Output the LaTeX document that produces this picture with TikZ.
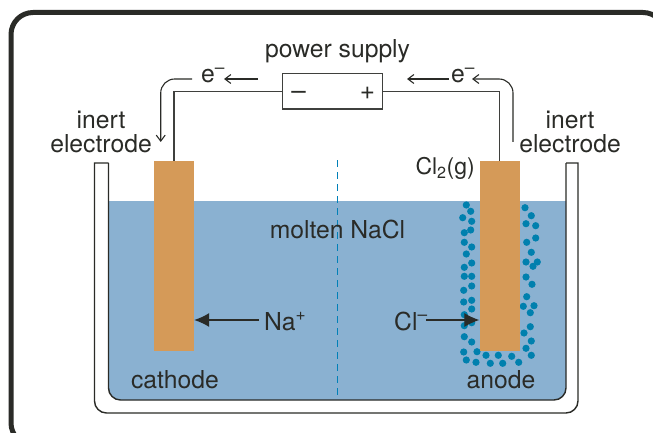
\documentclass[tikz,border=0pt]{standalone}
\usepackage{fontspec}
\setmainfont{TeX Gyre Heros}
\usetikzlibrary{arrows.meta}
\definecolor{inkdark}{HTML}{2A2B27}
\definecolor{meltblue}{HTML}{8AB1D1}
\definecolor{rodtan}{HTML}{D59A58}
\definecolor{gasblue}{HTML}{0080AE}
\definecolor{splitblue}{HTML}{0080B8}
\tikzset{
	lbl/.style={inner sep=0pt,text=inkdark,font=\fontsize{24.7}{24}\selectfont,anchor=base},
	sign/.style={inner sep=0pt,text=inkdark,font=\fontsize{26}{24}\selectfont,anchor=base},
	rod/.style={fill=rodtan,minimum width=40,minimum height=190,inner sep=0pt},
	wire/.style={draw=inkdark!90,line width=1.3},
	eflow/.style={draw=inkdark,line width=1.1,-{Straight Barb[length=6,width=9,line width=1.1]}},
	ionflow/.style={draw=inkdark,line width=1.1,-{Latex[length=15,width=14]}},
}
\begin{document}
\begin{tikzpicture}[x=1pt,y=-1pt]
	\useasboundingbox (0,0) rectangle (653,433);
	\clip (0,0) rectangle (653,433);
	\draw [draw=inkdark,line width=5,rounded corners=22] (11,12.5) rectangle (665,445);
	\fill [meltblue] (108.5,201) [rounded corners=12] -- (108.5,400) -- (566,400) [sharp corners] -- (566,201) -- cycle;
	\draw [draw=inkdark,line width=1.4] (108.5,163) [rounded corners=12] -- (108.5,400) -- (566,400) [sharp corners] -- (566,163);
	\draw [draw=inkdark,line width=1.4] (108.5,163) -- (94.5,163) [rounded corners=12] -- (94.5,413) -- (578,413) [sharp corners] -- (578,163) -- (566,163);
	\foreach \dy in {160,172,...,388}
		\fill [splitblue] (336.6,\dy) rectangle (338,\dy+7);
	\foreach \px/\py in {466.3/205,470.7/211.3,462.7/217.7,471.7/221.3,464.3/232.7,470.7/230,464.3/242.3,471.7/247,
		466.3/254,471.7/263,464.3/267.3,464.3/276.3,471.7/276.3,471.7/286,463.7/290.3,463.7/302,471.7/300.3,
		471.7/309,464.3/314.7,471.7/322.7,464.3/325.7,464.3/336.7,471.7/342,463.7/352,477/351.7,466.3/360,
		476/362.3,486/355.3,490.3/363.3,498.3/355.3,502.7/363.3,511.7/356.3,518.7/362.3,531.3/355.3,526/348.3,
		531.3/341,524/333,530.3/326.7,530.3/312.7,523.3/306.3,534/305.7,526.7/296.7,532/284.3,526/277,533/266.3,
		537.3/262,526/262,531.3/252.3,526.7/242.3,535.7/238,535.7/225.7,526/223.7,531.3/215.7,525/207.7}
		\fill [gasblue] (\px,\py) circle (3.6);
	\node [rod] (cathode) at (174,256) {};
	\node [rod] (anode) at (499.5,256) {};
	\node [draw=inkdark!90,line width=1.3,minimum width=99.6,minimum height=35.3,inner sep=0pt] (supply) at (332.5,91.4) {};
	\node [sign] (minus) at (298.5,100) {--};
	\node [sign] (plus) at (367.5,99.5) {+};
	\draw [wire] (cathode.north) -- (cathode.north |- supply.west) -- (supply.west);
	\draw [wire] (anode.north) -- (anode.north |- supply.east) -- (supply.east);
	\node [lbl] (psu) at (337.5,58) {power supply};
	\node [lbl] (eleft) at (213,83) {e\textsuperscript{--}};
	\node [lbl] (eright) at (463,83) {e\textsuperscript{--}};
	\node [lbl,anchor=center,align=center] (inertleft) at (101,132) {inert\\electrode};
	\node [lbl,anchor=center,align=center] (inertright) at (570,132) {inert\\electrode};
	\node [lbl,anchor=base east,font=\fontsize{23}{24}\selectfont] (chlorine) at (475,175) {Cl\textsubscript{2}(g)};
	\node [lbl] (melt) at (337.5,238) {molten NaCl};
	\node [lbl,anchor=base west] (sodium) at (264,330) {Na\textsuperscript{+}};
	\node [lbl,anchor=base west] (chloride) at (394,330) {Cl\textsuperscript{--}};
	\node [lbl] (cathodelbl) at (175,388) {cathode};
	\node [lbl] (anodelbl) at (501,388) {anode};
	\coordinate (A) at (192,79);
	\coordinate (B) at (160.7,142);
	\coordinate (C) at (258,79);
	\coordinate (D) at (224,79);
	\coordinate (E) at (449,79);
	\coordinate (F) at (407,79);
	\coordinate (G) at (513,142);
	\coordinate (H) at (472,79);
	\coordinate (I) at (259,320);
	\coordinate (J) at (426,320);
	\draw [eflow,rounded corners=14] (A) -- (B |- A) -- (B);
	\draw [eflow] (C) -- (D);
	\draw [eflow] (E) -- (F);
	\draw [eflow,rounded corners=14] (G) -- (G |- H) -- (H);
	\draw [ionflow] (I) -- (cathode.east |- I);
	\draw [ionflow] (J) -- (anode.west |- J);
\end{tikzpicture}
\end{document}
